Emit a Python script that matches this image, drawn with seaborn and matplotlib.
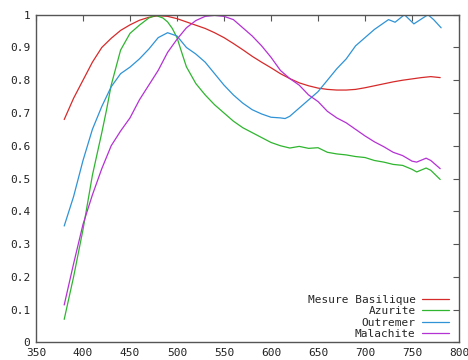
import numpy as np
import pandas as pd
import matplotlib
matplotlib.use("Agg")
import matplotlib.pyplot as plt
import seaborn as sns

# ---- data ----
red_x = [380, 390, 400, 410, 420, 430, 440, 450, 460, 470, 480, 490, 500, 510, 520, 530, 540,
         550, 560, 570, 580, 590, 600, 610, 620, 630, 640, 650, 660, 670, 680, 690, 700, 710,
         720, 730, 740, 750, 760, 770, 780]
red_y = [0.68, 0.745, 0.80, 0.855, 0.90, 0.928, 0.952, 0.969, 0.983, 0.992, 0.997, 0.995,
         0.988, 0.978, 0.968, 0.958, 0.945, 0.93, 0.912, 0.893, 0.873, 0.855, 0.838, 0.82,
         0.805, 0.792, 0.783, 0.776, 0.772, 0.770, 0.770, 0.772, 0.777, 0.783, 0.789, 0.795,
         0.800, 0.804, 0.808, 0.811, 0.808]

green_x = [380, 390, 400, 410, 420, 425, 430, 440, 450, 460, 470, 477, 485, 490, 495, 500, 505,
           510, 520, 530, 540, 550, 560, 570, 580, 590, 600, 610, 620, 630, 640, 650, 660, 670,
           680, 690, 700, 710, 720, 730, 740, 750, 755, 765, 770, 780]
green_y = [0.07, 0.20, 0.344, 0.51, 0.64, 0.709, 0.785, 0.892, 0.943, 0.968, 0.99, 0.998,
           0.99, 0.978, 0.958, 0.93, 0.885, 0.841, 0.79, 0.755, 0.725, 0.70, 0.675, 0.655,
           0.64, 0.625, 0.61, 0.60, 0.593, 0.598, 0.592, 0.594, 0.58, 0.575, 0.572, 0.567,
           0.564, 0.555, 0.55, 0.543, 0.54, 0.528, 0.52, 0.532, 0.525, 0.497]

blue_x = [380, 390, 400, 410, 420, 430, 440, 450, 460, 470, 480, 490, 500, 510, 520, 530, 540,
          550, 560, 570, 580, 590, 600, 610, 615, 620, 630, 640, 650, 660, 670, 680, 690, 700,
          710, 720, 725, 732, 742, 752, 767, 773, 781]
blue_y = [0.355, 0.445, 0.555, 0.65, 0.72, 0.78, 0.82, 0.84, 0.865, 0.895, 0.93, 0.945,
          0.935, 0.90, 0.88, 0.855, 0.82, 0.785, 0.755, 0.73, 0.71, 0.697, 0.687, 0.685,
          0.683, 0.69, 0.715, 0.74, 0.765, 0.80, 0.835, 0.865, 0.905, 0.93, 0.955, 0.975,
          0.985, 0.977, 1.0, 0.972, 1.0, 0.985, 0.96]

mag_x = [380, 390, 400, 410, 420, 430, 440, 450, 460, 470, 480, 490, 500, 510, 520, 530, 540,
         550, 560, 570, 580, 590, 600, 610, 620, 630, 640, 650, 660, 670, 680, 690, 700, 710,
         720, 730, 740, 750, 755, 765, 770, 780]
mag_y = [0.114, 0.24, 0.36, 0.45, 0.53, 0.60, 0.645, 0.685, 0.74, 0.785, 0.83, 0.885, 0.925,
         0.96, 0.982, 0.995, 0.998, 0.995, 0.985, 0.96, 0.935, 0.905, 0.87, 0.83, 0.805,
         0.785, 0.755, 0.735, 0.705, 0.685, 0.67, 0.65, 0.63, 0.612, 0.597, 0.58, 0.57,
         0.553, 0.55, 0.562, 0.555, 0.53]

labels = ["Mesure Basilique", "Azurite", "Outremer", "Malachite"]
colors = ["#d62a2a", "#2fb52f", "#2f93d6", "#b431d4"]
x_ticks = [350, 400, 450, 500, 550, 600, 650, 700, 750, 800]
y_ticks = [0, 0.1, 0.2, 0.3, 0.4, 0.5, 0.6, 0.7, 0.8, 0.9, 1]

frames = []
for name, xs, ys in zip(labels, [red_x, green_x, blue_x, mag_x], [red_y, green_y, blue_y, mag_y]):
    frames.append(pd.DataFrame({"nm": xs, "val": ys, "serie": name}))
df = pd.concat(frames, ignore_index=True)

sns.set_style("white")
plt.rcParams["font.family"] = ["DejaVu Sans Mono", "DejaVu Sans"]

fig = plt.figure(figsize=(4.68, 3.6), dpi=100)
ax = fig.add_axes([36 / 468, 1 - 342.3 / 360, (459 - 36) / 468, (342.3 - 14.7) / 360])

sns.lineplot(data=df, x="nm", y="val", hue="serie", hue_order=labels,
             palette=colors, linewidth=0.9, ax=ax, sort=False, estimator=None)

ax.set_xlim(350, 800)
ax.set_ylim(0, 1)
ax.set_xticks(x_ticks)
ax.set_xticklabels([str(v) for v in x_ticks])
ax.set_yticks(y_ticks)
ax.set_yticklabels(["%g" % v for v in y_ticks])
ax.set_xlabel("")
ax.set_ylabel("")
for s in ax.spines.values():
    s.set_color("#555555")
    s.set_linewidth(1.0)
ax.tick_params(direction="in", top=True, right=True, length=4, width=0.8,
               color="#555555", labelsize=8, labelcolor="#222222", pad=4)

handles, labs = ax.get_legend_handles_labels()
ax.legend(handles, labs, loc="lower right", bbox_to_anchor=(449 / 468, 1 - 339 / 360),
          bbox_transform=fig.transFigure, frameon=False, markerfirst=False,
          fontsize=8, handlelength=2.4, handletextpad=0.6, labelspacing=0.12,
          borderpad=0, borderaxespad=0)

fig.savefig("out.png", dpi=100)
